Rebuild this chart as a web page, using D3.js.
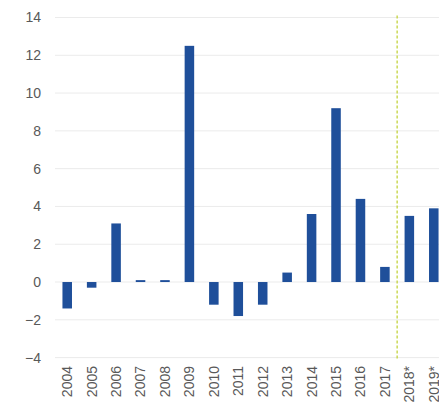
<!DOCTYPE html>
<html>
<head>
<meta charset="utf-8">
<script src="https://cdn.jsdelivr.net/npm/d3@7"></script>
<style>
  body { margin: 0; background: #fff; }
  svg { display: block; font-family: "Liberation Sans", Arial, sans-serif; }
</style>
</head>
<body>
<div id="chart"></div>
<script>
const years = ["2004", "2005", "2006", "2007", "2008", "2009", "2010", "2011",
               "2012", "2013", "2014", "2015", "2016", "2017", "2018*", "2019*"];
const values = [-1.4, -0.3, 3.1, 0.1, 0.1, 12.5, -1.2, -1.8,
                -1.2, 0.5, 3.6, 9.2, 4.4, 0.8, 3.5, 3.9];
const yTicks = [-4, -2, 0, 2, 4, 6, 8, 10, 12, 14];
const forecastStart = "2018*";

const width = 439, height = 407;

const svg = d3.select("#chart")
  .append("svg")
    .attr("width", width)
    .attr("height", height);

const x = d3.scaleBand()
    .domain(years)
    .range([55, 446])
    .paddingInner(0.61)
    .paddingOuter(0.305);

const y = d3.scaleLinear()
    .domain([-4, 14])
    .range([357.6, 17.5]);

// grid
svg.selectAll(".grid")
  .data(yTicks)
  .join("line")
    .attr("class", "grid")
    .attr("x1", 55)
    .attr("x2", width)
    .attr("y1", d => y(d))
    .attr("y2", d => y(d))
    .attr("stroke", "#ebebeb")
    .attr("stroke-width", 1);

// y axis
svg.append("g")
    .attr("transform", "translate(41,0)")
    .call(d3.axisLeft(y).tickValues(yTicks).tickSize(0).tickPadding(0))
    .call(g => g.select(".domain").remove())
    .selectAll(".tick text")
    .style("font-size", "14px")
    .style("fill", "#595959")
    .style("font-family", "Liberation Sans, Arial, sans-serif");

// x axis labels
svg.append("g")
    .attr("transform", "translate(0,366)")
    .call(d3.axisBottom(x).tickSize(0).tickPadding(0))
    .call(g => g.select(".domain").remove())
    .selectAll(".tick text")
    .attr("transform", "rotate(-90)")
    .attr("x", 0)
    .attr("y", 0)
    .attr("dy", "0.35em")
    .attr("text-anchor", "end")
    .style("font-size", "14px")
    .style("fill", "#595959")
    .style("font-family", "Liberation Sans, Arial, sans-serif");

// bars
svg.selectAll(".bar")
  .data(years.map((yr, i) => ({ year: yr, value: values[i] })))
  .join("rect")
    .attr("class", "bar")
    .attr("x", d => x(d.year))
    .attr("width", x.bandwidth())
    .attr("y", d => y(Math.max(0, d.value)))
    .attr("height", d => Math.abs(y(d.value) - y(0)))
    .attr("fill", "#1f4f9a");

// forecast separator
const prev = years[years.indexOf(forecastStart) - 1];
const sepX = (x(prev) + x(forecastStart)) / 2 + x.bandwidth() / 2;
svg.append("line")
    .attr("x1", sepX)
    .attr("x2", sepX)
    .attr("y1", y(14) - 2)
    .attr("y2", y(-4) + 2)
    .attr("stroke", "#bfcf2c")
    .attr("stroke-width", 1.2)
    .attr("stroke-dasharray", "3,2");
</script>
</body>
</html>
